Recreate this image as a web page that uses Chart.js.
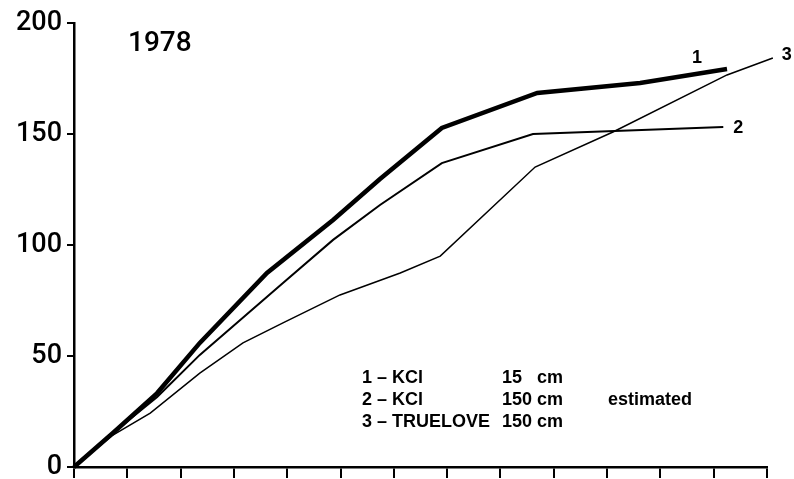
<!DOCTYPE html>
<html>
<head>
<meta charset="utf-8">
<script src="https://cdn.jsdelivr.net/npm/chart.js@4"></script>
<style>
  body { margin: 0; background: #fff; }
  canvas { display: block; }
</style>
</head>
<body>
<canvas id="chart" width="794" height="479"></canvas>
<script>
// values
const x1 = [0, 0.73, 1.56, 2.36, 3.62, 4.86, 5.74, 6.90, 8.69, 10.62, 12.25];
const y1 = [0, 15.3, 33.3, 55.9, 87.4, 111.3, 129.7, 152.7, 168.5, 173.0, 179.3];

const x2 = [0, 0.73, 1.56, 2.36, 3.92, 4.86, 5.74, 6.90, 8.61, 12.18];
const y2 = [0, 15.3, 31.5, 50.5, 82.9, 102.3, 118.0, 136.9, 150.0, 153.2];

const x3 = [0, 0.73, 1.43, 2.36, 3.17, 3.92, 4.99, 6.12, 6.87, 8.65, 10.11, 12.25, 13.11];
const y3 = [0, 14.4, 24.3, 42.3, 55.9, 64.9, 77.5, 87.4, 95.0, 135.1, 150.9, 176.6, 184.2];

const yTicks = [0, 50, 100, 150, 200];
const lineNames = ["1", "2", "3"];
const legendRows = [
  ["1 \u2013 KCl", "15   cm", ""],
  ["2 \u2013 KCl", "150 cm", "estimated"],
  ["3 \u2013 TRUELOVE", "150 cm", ""]
];
const yearLabel = "1978";

function pts(xs, ys) {
  return xs.map((x, i) => ({ x: x, y: ys[i] }));
}

const textPlugin = {
  id: "texts",
  afterDatasetsDraw(chart) {
    const ctx = chart.ctx;
    ctx.save();
    ctx.fillStyle = "#000";

    ctx.font = "500 28px Roboto";
    ctx.textBaseline = "alphabetic";
    ctx.textAlign = "left";
    ctx.fillText(yearLabel, 128, 51);

    // end labels next to each line
    const offs = [[-30, -11], [15, 1], [14, -3]];
    ctx.font = "bold 18px 'Liberation Sans'";
    ctx.textAlign = "center";
    ctx.textBaseline = "middle";
    chart.data.datasets.forEach((ds, i) => {
      const meta = chart.getDatasetMeta(i);
      const last = meta.data[meta.data.length - 1];
      ctx.fillText(lineNames[i], last.x + offs[i][0], last.y + offs[i][1]);
    });

    ctx.textAlign = "left";
    ctx.textBaseline = "alphabetic";
    legendRows.forEach((row, i) => {
      const yy = 383 + i * 22;
      ctx.fillText(row[0], 362, yy);
      ctx.fillText(row[1], 502, yy);
      ctx.fillText(row[2], 608, yy);
    });
    ctx.restore();
  }
};

chart = new Chart(document.getElementById("chart"), {
  type: "line",
  data: {
    datasets: [
      { data: pts(x1, y1), borderColor: "#000", borderWidth: 4.5, pointRadius: 0, tension: 0, clip: false },
      { data: pts(x2, y2), borderColor: "#000", borderWidth: 2, pointRadius: 0, tension: 0, clip: false },
      { data: pts(x3, y3), borderColor: "#000", borderWidth: 1.5, pointRadius: 0, tension: 0, clip: false }
    ]
  },
  options: {
    responsive: false,
    animation: false,
    layout: { padding: { left: 0, right: 27, top: 23, bottom: 0 } },
    plugins: { legend: { display: false }, tooltip: { enabled: false } },
    scales: {
      x: {
        type: "linear",
        min: 0,
        max: 13,
        ticks: { stepSize: 1, display: false },
        grid: { drawOnChartArea: false, drawTicks: true, tickLength: 11, color: "#000", lineWidth: 2 },
        border: { color: "#000", width: 2.5 },
        afterFit(scale) { scale.height = 12; }
      },
      y: {
        min: 0,
        max: 200,
        afterBuildTicks(scale) { scale.ticks = yTicks.map(v => ({ value: v })); },
        ticks: { color: "#000", padding: 5, font: { family: "Roboto", weight: "500", size: 27 } },
        grid: { drawOnChartArea: false, drawTicks: true, tickLength: 7, color: "#000", lineWidth: 2 },
        border: { color: "#000", width: 2.5 },
        afterFit(scale) {
          scale.width = 74;
          scale.paddingTop = 0;
          scale.paddingBottom = 0;
        }
      }
    }
  },
  plugins: [textPlugin]
});
</script>
</body>
</html>
